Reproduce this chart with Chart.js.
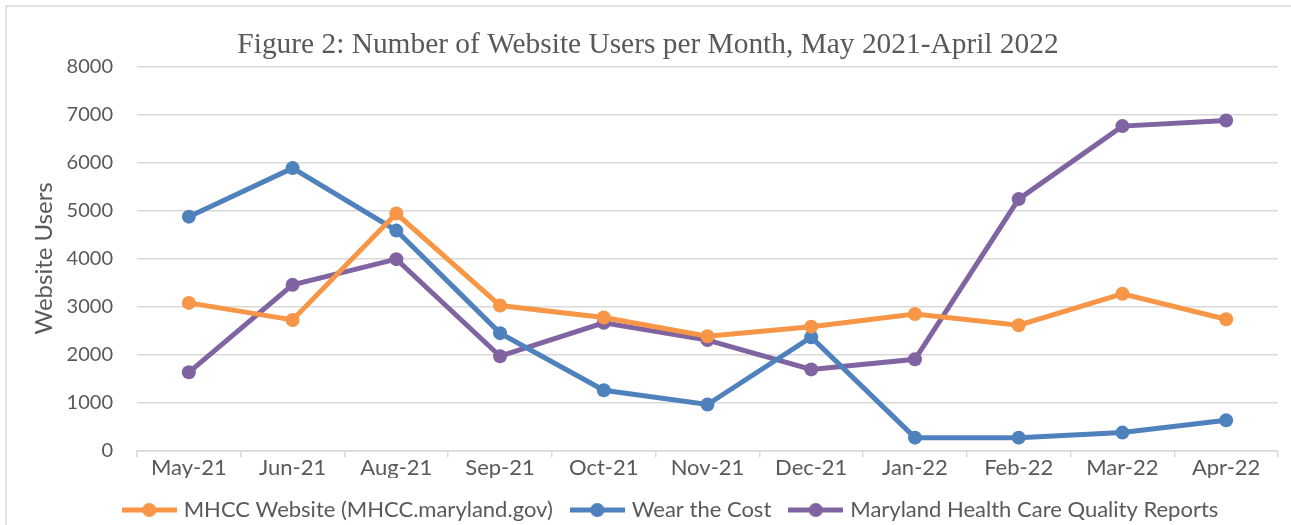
<!DOCTYPE html>
<html>
<head>
<meta charset="utf-8">
<script src="https://cdn.jsdelivr.net/npm/chart.js@4.4.1/dist/chart.umd.min.js"></script>
<style>
  html, body { margin: 0; padding: 0; background: #fff; }
  #wrap { width: 1291px; height: 525px; position: relative; }
</style>
</head>
<body>
<div id="wrap"><canvas id="usersChart"></canvas></div>
<script>
// monthly categories (July 2021 is not in the source)
const months = ['May-21', 'Jun-21', 'Aug-21', 'Sep-21', 'Oct-21', 'Nov-21', 'Dec-21', 'Jan-22', 'Feb-22', 'Mar-22', 'Apr-22'];
const mhccWebsite = [3075, 2720, 4935, 3020, 2770, 2380, 2580, 2845, 2610, 3265, 2735];
const wearTheCost = [4870, 5880, 4580, 2445, 1255, 960, 2360, 270, 270, 375, 630];
const qualityReports = [1630, 3450, 3985, 1965, 2660, 2300, 1690, 1900, 5235, 6755, 6870];
const yTicks = [0, 1000, 2000, 3000, 4000, 5000, 6000, 7000, 8000];

const corMhcc = '#F79646';
const corWear = '#4F81BD';
const corQuality = '#8064A2';
const corTexto = '#595959';
const fonte = 'Lato, "Open Sans", sans-serif';

// legend symbol: thick line with a dot in the middle
function legendSymbol(color) {
  const c = document.createElement('canvas');
  c.width = 55; c.height = 16;
  const g = c.getContext('2d');
  g.strokeStyle = color;
  g.lineWidth = 5;
  g.beginPath(); g.moveTo(0, 8); g.lineTo(55, 8); g.stroke();
  g.fillStyle = color;
  g.beginPath(); g.arc(27.5, 8, 7, 0, Math.PI * 2); g.fill();
  return c;
}

function serie(label, data, color) {
  return {
    label: label,
    data: data,
    borderColor: color,
    backgroundColor: color,
    borderWidth: 5,
    pointRadius: 7,
    pointHoverRadius: 7,
    pointBackgroundColor: color,
    pointBorderWidth: 0,
    tension: 0,
  };
}

// outer frame of the Excel chart + small nudges of title/legend
const framePlugin = {
  id: 'frame',
  afterLayout(chart) {
    chart.legend.left += 38;
    chart.titleBlock.left -= 10;
  },
  beforeDraw(chart) {
    const g = chart.ctx;
    g.save();
    g.fillStyle = '#fff';
    g.fillRect(0, 0, chart.width, chart.height);
    g.strokeStyle = '#d9d9d9';
    g.lineWidth = 1.5;
    g.strokeRect(6, 6, 1400, 700);
    g.restore();
  },
};

const ctx = document.getElementById('usersChart').getContext('2d');
new Chart(ctx, {
  type: 'line',
  data: {
    labels: months,
    datasets: [
      serie('MHCC Website (MHCC.maryland.gov)', mhccWebsite, corMhcc),
      serie('Wear the Cost', wearTheCost, corWear),
      serie('Maryland Health Care Quality Reports', qualityReports, corQuality),
    ],
  },
  options: {
    responsive: true,
    maintainAspectRatio: false,
    animation: false,
    layout: { padding: { left: 28, right: 13, top: 28, bottom: -6 } },
    scales: {
      x: {
        offset: true,
        grid: { offset: true, drawOnChartArea: false, drawTicks: true, tickLength: 7, color: '#d9d9d9', lineWidth: 1.5 },
        border: { color: '#d9d9d9', width: 1.5 },
        ticks: { color: corTexto, font: { family: fonte, size: 22 }, padding: -3, maxRotation: 0 },
      },
      y: {
        min: 0,
        max: 8000,
        afterBuildTicks: (axis) => { axis.ticks = yTicks.map((v) => ({ value: v })); },
        afterFit: (scale) => { scale.width = 109; },
        grid: { color: '#d9d9d9', lineWidth: 1.5, drawTicks: false },
        border: { display: false },
        ticks: { color: corTexto, font: { family: fonte, size: 20 }, padding: 24, callback: (v) => String(v) },
        title: { display: true, text: 'Website Users', color: corTexto, font: { family: fonte, size: 24 }, padding: { top: 2, bottom: 4 } },
      },
    },
    plugins: {
      title: {
        display: true,
        text: 'Figure 2: Number of Website Users per Month, May 2021-April 2022',
        color: corTexto,
        font: { family: '"Liberation Serif", "Times New Roman", serif', size: 29.4, weight: 'normal' },
        padding: { top: 0, bottom: 3 },
      },
      legend: {
        position: 'bottom',
        labels: {
          color: corTexto,
          font: { family: fonte, size: 22 },
          usePointStyle: true,
          pointStyleWidth: 47,
          boxHeight: 16,
          padding: 21,
          generateLabels: (chart) => chart.data.datasets.map((ds, i) => ({
            text: ds.label,
            fillStyle: ds.borderColor,
            strokeStyle: ds.borderColor,
            fontColor: corTexto,
            lineWidth: 0,
            pointStyle: legendSymbol(ds.borderColor),
            datasetIndex: i,
            hidden: false,
          })),
        },
      },
      tooltip: { enabled: false },
    },
  },
  plugins: [framePlugin],
});
</script>
</body>
</html>
